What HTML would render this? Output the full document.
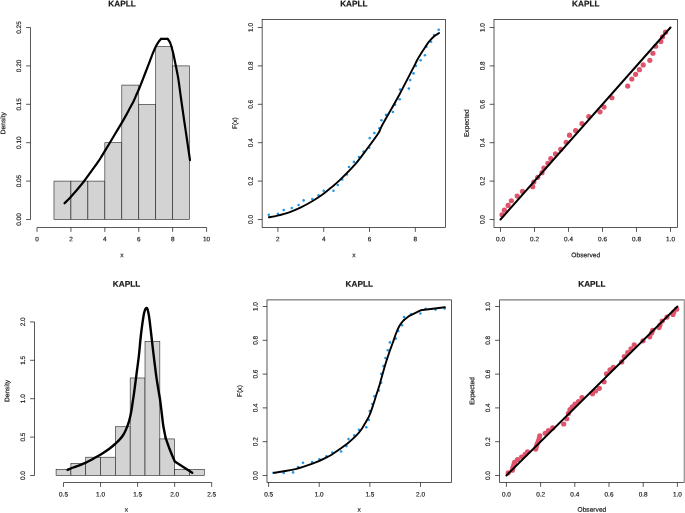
<!DOCTYPE html>
<html><head><meta charset="utf-8"><title>KAPLL</title>
<style>
html,body{margin:0;padding:0;background:#fff;}
body{width:685px;height:513px;overflow:hidden;font-family:"Liberation Sans",sans-serif;}
svg{display:block;will-change:transform;opacity:0.999;}
svg text{font-family:"Liberation Sans",sans-serif;fill:#1a1a1a;stroke:#1a1a1a;stroke-width:0.18px;text-rendering:geometricPrecision;}
</style></head>
<body>
<svg width="685" height="513" viewBox="0 0 685 513">
<rect x="0" y="0" width="685" height="513" fill="#ffffff"/>
<rect x="53.96" y="181.1" width="16.96" height="38.4" fill="#d3d3d3" stroke="#222222" stroke-width="0.6"/>
<rect x="70.92" y="181.1" width="16.96" height="38.4" fill="#d3d3d3" stroke="#222222" stroke-width="0.6"/>
<rect x="87.88" y="181.1" width="16.96" height="38.4" fill="#d3d3d3" stroke="#222222" stroke-width="0.6"/>
<rect x="104.84" y="142.7" width="16.96" height="76.8" fill="#d3d3d3" stroke="#222222" stroke-width="0.6"/>
<rect x="121.8" y="85.1" width="16.96" height="134.4" fill="#d3d3d3" stroke="#222222" stroke-width="0.6"/>
<rect x="138.76" y="104.3" width="16.96" height="115.2" fill="#d3d3d3" stroke="#222222" stroke-width="0.6"/>
<rect x="155.72" y="46.7" width="16.96" height="172.8" fill="#d3d3d3" stroke="#222222" stroke-width="0.6"/>
<rect x="172.68" y="65.9" width="16.96" height="153.6" fill="#d3d3d3" stroke="#222222" stroke-width="0.6"/>
<path d="M64.5 203.3C65.5 202.28 68.33 199.53 70.5 197.2C72.67 194.87 75.15 192.08 77.5 189.3C79.85 186.52 82.25 183.57 84.6 180.5C86.95 177.43 89.25 174.17 91.6 170.9C93.95 167.63 96.93 163.5 98.7 160.9C100.47 158.3 100.42 158.2 102.2 155.3C103.98 152.4 107.23 147.08 109.4 143.5C111.57 139.92 113.17 137.2 115.2 133.8C117.23 130.4 119.75 126.25 121.6 123.1C123.45 119.95 124.87 117.5 126.3 114.9C127.73 112.3 129 109.75 130.2 107.5C131.4 105.25 132.5 103.43 133.5 101.4C134.5 99.37 135.27 97.4 136.2 95.3C137.13 93.2 138.13 91.1 139.1 88.8C140.07 86.5 141.03 83.97 142 81.5C142.97 79.03 143.85 76.73 144.9 74C145.95 71.27 147 68.48 148.3 65.1C149.6 61.72 151.38 56.92 152.7 53.7C154.02 50.48 155.17 47.85 156.2 45.8C157.23 43.75 158.08 42.57 158.9 41.4C159.72 40.23 160.73 39.23 161.1 38.8" fill="none" stroke="#000" stroke-width="2.2" stroke-linecap="round" stroke-linejoin="round"/>
<path d="M161.1 38.8L167.6 38.8" fill="none" stroke="#000" stroke-width="2.2" stroke-linecap="round" stroke-linejoin="round"/>
<path d="M167.6 38.8C168.05 39.53 169.42 41.02 170.3 43.2C171.18 45.38 172.03 48.4 172.9 51.9C173.77 55.4 174.62 59.82 175.5 64.2C176.38 68.58 177.27 72.4 178.2 78.2C179.13 84 180.12 92.03 181.1 99C182.08 105.97 183.08 113 184.1 120C185.12 127 186.22 134.3 187.2 141C188.18 147.7 189.53 157 190 160.2" fill="none" stroke="#000" stroke-width="2.2" stroke-linecap="round" stroke-linejoin="round"/>
<line x1="30.5" y1="27.5" x2="30.5" y2="219.5" stroke="#222222" stroke-width="0.75"/>
<line x1="26.1" y1="219.5" x2="30.5" y2="219.5" stroke="#222222" stroke-width="0.75"/>
<text x="21.1" y="219.5" font-size="6.4" text-anchor="middle" transform="rotate(-89.97 21.1 219.5)">0.00</text>
<line x1="26.1" y1="181.1" x2="30.5" y2="181.1" stroke="#222222" stroke-width="0.75"/>
<text x="21.1" y="181.1" font-size="6.4" text-anchor="middle" transform="rotate(-89.97 21.1 181.1)">0.05</text>
<line x1="26.1" y1="142.7" x2="30.5" y2="142.7" stroke="#222222" stroke-width="0.75"/>
<text x="21.1" y="142.7" font-size="6.4" text-anchor="middle" transform="rotate(-89.97 21.1 142.7)">0.10</text>
<line x1="26.1" y1="104.3" x2="30.5" y2="104.3" stroke="#222222" stroke-width="0.75"/>
<text x="21.1" y="104.3" font-size="6.4" text-anchor="middle" transform="rotate(-89.97 21.1 104.3)">0.15</text>
<line x1="26.1" y1="65.9" x2="30.5" y2="65.9" stroke="#222222" stroke-width="0.75"/>
<text x="21.1" y="65.9" font-size="6.4" text-anchor="middle" transform="rotate(-89.97 21.1 65.9)">0.20</text>
<line x1="26.1" y1="27.5" x2="30.5" y2="27.5" stroke="#222222" stroke-width="0.75"/>
<text x="21.1" y="27.5" font-size="6.4" text-anchor="middle" transform="rotate(-89.97 21.1 27.5)">0.25</text>
<text x="5.3" y="123.2" font-size="6.65" text-anchor="middle" transform="rotate(-89.97 5.3 123.2)">Density</text>
<line x1="37" y1="227.5" x2="206.6" y2="227.5" stroke="#222222" stroke-width="0.75"/>
<line x1="37" y1="227.5" x2="37" y2="231.9" stroke="#222222" stroke-width="0.75"/>
<text x="37" y="241.2" font-size="6.4" text-anchor="middle" transform="rotate(0.03 37 241.2)">0</text>
<line x1="70.92" y1="227.5" x2="70.92" y2="231.9" stroke="#222222" stroke-width="0.75"/>
<text x="70.92" y="241.2" font-size="6.4" text-anchor="middle" transform="rotate(0.03 70.92 241.2)">2</text>
<line x1="104.84" y1="227.5" x2="104.84" y2="231.9" stroke="#222222" stroke-width="0.75"/>
<text x="104.84" y="241.2" font-size="6.4" text-anchor="middle" transform="rotate(0.03 104.84 241.2)">4</text>
<line x1="138.76" y1="227.5" x2="138.76" y2="231.9" stroke="#222222" stroke-width="0.75"/>
<text x="138.76" y="241.2" font-size="6.4" text-anchor="middle" transform="rotate(0.03 138.76 241.2)">6</text>
<line x1="172.68" y1="227.5" x2="172.68" y2="231.9" stroke="#222222" stroke-width="0.75"/>
<text x="172.68" y="241.2" font-size="6.4" text-anchor="middle" transform="rotate(0.03 172.68 241.2)">8</text>
<line x1="206.6" y1="227.5" x2="206.6" y2="231.9" stroke="#222222" stroke-width="0.75"/>
<text x="206.6" y="241.2" font-size="6.4" text-anchor="middle" transform="rotate(0.03 206.6 241.2)">10</text>
<text x="122" y="257.2" font-size="6.65" text-anchor="middle" transform="rotate(0.03 122 257.2)">x</text>
<text x="122" y="6.4" font-size="8.2" text-anchor="middle" font-weight="bold" transform="rotate(0.03 122 6.4)">KAPLL</text>
<g fill="#2297e6"><circle cx="268.8" cy="214.7" r="1.3"/><circle cx="277.9" cy="213.9" r="1.3"/><circle cx="283.7" cy="210" r="1.3"/><circle cx="291.8" cy="208" r="1.3"/><circle cx="298.6" cy="205" r="1.3"/><circle cx="303.6" cy="200.4" r="1.3"/><circle cx="312.3" cy="199" r="1.3"/><circle cx="318.5" cy="195.3" r="1.3"/><circle cx="323.7" cy="190.8" r="1.3"/><circle cx="333.5" cy="190.8" r="1.3"/><circle cx="337.8" cy="185" r="1.3"/><circle cx="342.2" cy="179.4" r="1.3"/><circle cx="346.9" cy="174.5" r="1.3"/><circle cx="349" cy="167" r="1.3"/><circle cx="353.9" cy="161.9" r="1.3"/><circle cx="358.9" cy="157.1" r="1.3"/><circle cx="363.6" cy="151.6" r="1.3"/><circle cx="369.2" cy="147.8" r="1.3"/><circle cx="369.7" cy="138.1" r="1.3"/><circle cx="374.4" cy="133.1" r="1.3"/><circle cx="379.3" cy="128.2" r="1.3"/><circle cx="381.4" cy="120.3" r="1.3"/><circle cx="386" cy="114.9" r="1.3"/><circle cx="392.9" cy="112" r="1.3"/><circle cx="395.1" cy="104.8" r="1.3"/><circle cx="399.7" cy="99.2" r="1.3"/><circle cx="400.1" cy="89.6" r="1.3"/><circle cx="408.8" cy="88.6" r="1.3"/><circle cx="410.2" cy="80.1" r="1.3"/><circle cx="413.5" cy="73.4" r="1.3"/><circle cx="415.8" cy="65.9" r="1.3"/><circle cx="420.6" cy="60.3" r="1.3"/><circle cx="424.9" cy="55.2" r="1.3"/><circle cx="426.4" cy="46.8" r="1.3"/><circle cx="431.1" cy="41.8" r="1.3"/><circle cx="434.1" cy="35" r="1.3"/><circle cx="438.7" cy="29.7" r="1.3"/></g>
<path d="M268.9 217.3C270.33 217.02 274.12 216.43 277.5 215.6C280.88 214.77 285.3 213.67 289.2 212.3C293.1 210.93 297 209.28 300.9 207.4C304.8 205.52 308.88 203.23 312.6 201C316.32 198.77 319.88 196.43 323.2 194C326.52 191.57 329.7 188.75 332.5 186.4C335.3 184.05 336.23 183.57 340 179.9C343.77 176.23 350.63 169.52 355.1 164.4C359.57 159.28 362.9 154.45 366.8 149.2C370.7 143.95 375.92 136.93 378.5 132.9C381.08 128.87 378.78 131.45 382.3 125C385.82 118.55 394.25 104.1 399.6 94.2C404.95 84.3 411.47 71.3 414.4 65.6C417.33 59.9 415.72 62.58 417.2 60C418.68 57.42 421.4 53.07 423.3 50.1C425.2 47.13 426.83 44.47 428.6 42.2C430.37 39.93 432.15 38.03 433.9 36.5C435.65 34.97 438.23 33.58 439.1 33" fill="none" stroke="#000" stroke-width="1.9" stroke-linecap="round" stroke-linejoin="round"/>
<rect x="262.15" y="19.5" width="183.35" height="208" fill="none" stroke="#222222" stroke-width="0.75"/>
<line x1="257.75" y1="219.5" x2="262.15" y2="219.5" stroke="#222222" stroke-width="0.75"/>
<text x="252.75" y="219.5" font-size="6.4" text-anchor="middle" transform="rotate(-89.97 252.75 219.5)">0.0</text>
<line x1="257.75" y1="181.1" x2="262.15" y2="181.1" stroke="#222222" stroke-width="0.75"/>
<text x="252.75" y="181.1" font-size="6.4" text-anchor="middle" transform="rotate(-89.97 252.75 181.1)">0.2</text>
<line x1="257.75" y1="142.7" x2="262.15" y2="142.7" stroke="#222222" stroke-width="0.75"/>
<text x="252.75" y="142.7" font-size="6.4" text-anchor="middle" transform="rotate(-89.97 252.75 142.7)">0.4</text>
<line x1="257.75" y1="104.3" x2="262.15" y2="104.3" stroke="#222222" stroke-width="0.75"/>
<text x="252.75" y="104.3" font-size="6.4" text-anchor="middle" transform="rotate(-89.97 252.75 104.3)">0.6</text>
<line x1="257.75" y1="65.9" x2="262.15" y2="65.9" stroke="#222222" stroke-width="0.75"/>
<text x="252.75" y="65.9" font-size="6.4" text-anchor="middle" transform="rotate(-89.97 252.75 65.9)">0.8</text>
<line x1="257.75" y1="27.5" x2="262.15" y2="27.5" stroke="#222222" stroke-width="0.75"/>
<text x="252.75" y="27.5" font-size="6.4" text-anchor="middle" transform="rotate(-89.97 252.75 27.5)">1.0</text>
<text x="236.95" y="123.2" font-size="6.65" text-anchor="middle" transform="rotate(-89.97 236.95 123.2)">F(x)</text>
<line x1="277.9" y1="227.5" x2="277.9" y2="231.9" stroke="#222222" stroke-width="0.75"/>
<text x="277.9" y="241.2" font-size="6.4" text-anchor="middle" transform="rotate(0.03 277.9 241.2)">2</text>
<line x1="323.7" y1="227.5" x2="323.7" y2="231.9" stroke="#222222" stroke-width="0.75"/>
<text x="323.7" y="241.2" font-size="6.4" text-anchor="middle" transform="rotate(0.03 323.7 241.2)">4</text>
<line x1="369.5" y1="227.5" x2="369.5" y2="231.9" stroke="#222222" stroke-width="0.75"/>
<text x="369.5" y="241.2" font-size="6.4" text-anchor="middle" transform="rotate(0.03 369.5 241.2)">6</text>
<line x1="415.3" y1="227.5" x2="415.3" y2="231.9" stroke="#222222" stroke-width="0.75"/>
<text x="415.3" y="241.2" font-size="6.4" text-anchor="middle" transform="rotate(0.03 415.3 241.2)">8</text>
<text x="353.82" y="257.2" font-size="6.65" text-anchor="middle" transform="rotate(0.03 353.82 257.2)">x</text>
<text x="353.82" y="6.4" font-size="8.2" text-anchor="middle" font-weight="bold" transform="rotate(0.03 353.82 6.4)">KAPLL</text>
<g fill="#df536b"><circle cx="502" cy="214.82" r="2.6"/><circle cx="504.4" cy="210.13" r="2.6"/><circle cx="508.1" cy="205.45" r="2.6"/><circle cx="511.4" cy="200.77" r="2.6"/><circle cx="517.2" cy="196.09" r="2.6"/><circle cx="522.5" cy="191.4" r="2.6"/><circle cx="532.7" cy="186.72" r="2.6"/><circle cx="533.8" cy="182.04" r="2.6"/><circle cx="537.7" cy="177.35" r="2.6"/><circle cx="542" cy="172.67" r="2.6"/><circle cx="543.9" cy="167.99" r="2.6"/><circle cx="547.9" cy="163.3" r="2.6"/><circle cx="550.8" cy="158.62" r="2.6"/><circle cx="555.5" cy="153.94" r="2.6"/><circle cx="560.7" cy="149.26" r="2.6"/><circle cx="566.2" cy="142.23" r="2.6"/><circle cx="569.5" cy="135.21" r="2.6"/><circle cx="575.6" cy="130.52" r="2.6"/><circle cx="582" cy="123.5" r="2.6"/><circle cx="588.8" cy="116.48" r="2.6"/><circle cx="600" cy="111.79" r="2.6"/><circle cx="604" cy="107.11" r="2.6"/><circle cx="611.9" cy="97.74" r="2.6"/><circle cx="627.7" cy="86.04" r="2.6"/><circle cx="631.8" cy="79.01" r="2.6"/><circle cx="635.6" cy="74.33" r="2.6"/><circle cx="639.4" cy="69.65" r="2.6"/><circle cx="643.2" cy="64.96" r="2.6"/><circle cx="649.8" cy="60.28" r="2.6"/><circle cx="652.9" cy="53.26" r="2.6"/><circle cx="655.7" cy="46.23" r="2.6"/><circle cx="660.8" cy="41.55" r="2.6"/><circle cx="662.5" cy="36.87" r="2.6"/><circle cx="665.5" cy="32.18" r="2.6"/></g>
<path d="M500.5 219.5L670.5 27.5" fill="none" stroke="#000" stroke-width="2.0" stroke-linecap="round" stroke-linejoin="round"/>
<rect x="494" y="19.5" width="183.5" height="208" fill="none" stroke="#222222" stroke-width="0.75"/>
<line x1="489.6" y1="219.5" x2="494" y2="219.5" stroke="#222222" stroke-width="0.75"/>
<text x="484.6" y="219.5" font-size="6.4" text-anchor="middle" transform="rotate(-89.97 484.6 219.5)">0.0</text>
<line x1="489.6" y1="181.1" x2="494" y2="181.1" stroke="#222222" stroke-width="0.75"/>
<text x="484.6" y="181.1" font-size="6.4" text-anchor="middle" transform="rotate(-89.97 484.6 181.1)">0.2</text>
<line x1="489.6" y1="142.7" x2="494" y2="142.7" stroke="#222222" stroke-width="0.75"/>
<text x="484.6" y="142.7" font-size="6.4" text-anchor="middle" transform="rotate(-89.97 484.6 142.7)">0.4</text>
<line x1="489.6" y1="104.3" x2="494" y2="104.3" stroke="#222222" stroke-width="0.75"/>
<text x="484.6" y="104.3" font-size="6.4" text-anchor="middle" transform="rotate(-89.97 484.6 104.3)">0.6</text>
<line x1="489.6" y1="65.9" x2="494" y2="65.9" stroke="#222222" stroke-width="0.75"/>
<text x="484.6" y="65.9" font-size="6.4" text-anchor="middle" transform="rotate(-89.97 484.6 65.9)">0.8</text>
<line x1="489.6" y1="27.5" x2="494" y2="27.5" stroke="#222222" stroke-width="0.75"/>
<text x="484.6" y="27.5" font-size="6.4" text-anchor="middle" transform="rotate(-89.97 484.6 27.5)">1.0</text>
<text x="468.8" y="123.2" font-size="6.65" text-anchor="middle" transform="rotate(-89.97 468.8 123.2)">Expected</text>
<line x1="500.5" y1="227.5" x2="500.5" y2="231.9" stroke="#222222" stroke-width="0.75"/>
<text x="500.5" y="241.2" font-size="6.4" text-anchor="middle" transform="rotate(0.03 500.5 241.2)">0.0</text>
<line x1="534.5" y1="227.5" x2="534.5" y2="231.9" stroke="#222222" stroke-width="0.75"/>
<text x="534.5" y="241.2" font-size="6.4" text-anchor="middle" transform="rotate(0.03 534.5 241.2)">0.2</text>
<line x1="568.5" y1="227.5" x2="568.5" y2="231.9" stroke="#222222" stroke-width="0.75"/>
<text x="568.5" y="241.2" font-size="6.4" text-anchor="middle" transform="rotate(0.03 568.5 241.2)">0.4</text>
<line x1="602.5" y1="227.5" x2="602.5" y2="231.9" stroke="#222222" stroke-width="0.75"/>
<text x="602.5" y="241.2" font-size="6.4" text-anchor="middle" transform="rotate(0.03 602.5 241.2)">0.6</text>
<line x1="636.5" y1="227.5" x2="636.5" y2="231.9" stroke="#222222" stroke-width="0.75"/>
<text x="636.5" y="241.2" font-size="6.4" text-anchor="middle" transform="rotate(0.03 636.5 241.2)">0.8</text>
<line x1="670.5" y1="227.5" x2="670.5" y2="231.9" stroke="#222222" stroke-width="0.75"/>
<text x="670.5" y="241.2" font-size="6.4" text-anchor="middle" transform="rotate(0.03 670.5 241.2)">1.0</text>
<text x="585.75" y="257.2" font-size="6.65" text-anchor="middle" transform="rotate(0.03 585.75 257.2)">Observed</text>
<text x="585.75" y="6.4" font-size="8.2" text-anchor="middle" font-weight="bold" transform="rotate(0.03 585.75 6.4)">KAPLL</text>
<rect x="56.09" y="469.4" width="14.82" height="6.1" fill="#d3d3d3" stroke="#222222" stroke-width="0.6"/>
<rect x="70.91" y="463.31" width="14.82" height="12.19" fill="#d3d3d3" stroke="#222222" stroke-width="0.6"/>
<rect x="85.73" y="457.21" width="14.82" height="18.29" fill="#d3d3d3" stroke="#222222" stroke-width="0.6"/>
<rect x="100.55" y="457.21" width="14.82" height="18.29" fill="#d3d3d3" stroke="#222222" stroke-width="0.6"/>
<rect x="115.37" y="426.74" width="14.82" height="48.76" fill="#d3d3d3" stroke="#222222" stroke-width="0.6"/>
<rect x="130.19" y="377.98" width="14.82" height="97.52" fill="#d3d3d3" stroke="#222222" stroke-width="0.6"/>
<rect x="145.01" y="341.4" width="14.82" height="134.1" fill="#d3d3d3" stroke="#222222" stroke-width="0.6"/>
<rect x="159.83" y="438.93" width="14.82" height="36.57" fill="#d3d3d3" stroke="#222222" stroke-width="0.6"/>
<rect x="174.65" y="469.4" width="14.82" height="6.1" fill="#d3d3d3" stroke="#222222" stroke-width="0.6"/>
<rect x="189.47" y="469.4" width="14.82" height="6.1" fill="#d3d3d3" stroke="#222222" stroke-width="0.6"/>
<path d="M67.5 469.9C68.45 469.5 71.23 468.27 73.2 467.5C75.17 466.73 77.27 466.07 79.3 465.3C81.33 464.53 83.35 463.83 85.4 462.9C87.45 461.97 89.55 460.8 91.6 459.7C93.65 458.6 95.65 457.5 97.7 456.3C99.75 455.1 101.85 453.85 103.9 452.5C105.95 451.15 108.23 449.53 110 448.2C111.77 446.87 113.02 445.8 114.5 444.5C115.98 443.2 117.45 441.98 118.9 440.4C120.35 438.82 121.95 436.97 123.2 435C124.45 433.03 125.42 430.92 126.4 428.6C127.38 426.28 128.28 423.97 129.1 421.1C129.92 418.23 130.67 414.8 131.3 411.4C131.93 408 132.42 403.93 132.9 400.7C133.38 397.47 133.6 396.43 134.2 392C134.8 387.57 135.72 380.17 136.5 374.1C137.28 368.03 138.2 361.78 138.9 355.6C139.6 349.42 140.08 342.57 140.7 337C141.32 331.43 142.03 326.2 142.6 322.2C143.17 318.2 143.63 315.22 144.1 313C144.57 310.78 145 309.73 145.4 308.9C145.8 308.07 146.13 307.93 146.5 308C146.87 308.07 147.17 307.85 147.6 309.3C148.03 310.75 148.55 313 149.1 316.7C149.65 320.4 150.28 326.27 150.9 331.5C151.52 336.73 152.18 342.85 152.8 348.1C153.42 353.35 153.98 358.05 154.6 363C155.22 367.95 155.83 373.13 156.5 377.8C157.17 382.47 157.98 387.18 158.6 391C159.22 394.82 159.67 396.93 160.2 400.7C160.73 404.47 161.3 409.52 161.8 413.6C162.3 417.68 162.55 421.1 163.2 425.2C163.85 429.3 165.28 436.03 165.7 438.2" fill="none" stroke="#000" stroke-width="2.4" stroke-linecap="round" stroke-linejoin="round"/>
<path d="M165.7 438.2L168.9 447.2L172.1 455.2L174.8 461.4L192.2 472.8" fill="none" stroke="#000" stroke-width="2.4" stroke-linecap="round" stroke-linejoin="round"/>
<line x1="34.5" y1="321.9" x2="34.5" y2="475.5" stroke="#222222" stroke-width="0.75"/>
<line x1="30.1" y1="475.5" x2="34.5" y2="475.5" stroke="#222222" stroke-width="0.75"/>
<text x="25.1" y="475.5" font-size="6.4" text-anchor="middle" transform="rotate(-89.97 25.1 475.5)">0.0</text>
<line x1="30.1" y1="437.1" x2="34.5" y2="437.1" stroke="#222222" stroke-width="0.75"/>
<text x="25.1" y="437.1" font-size="6.4" text-anchor="middle" transform="rotate(-89.97 25.1 437.1)">0.5</text>
<line x1="30.1" y1="398.7" x2="34.5" y2="398.7" stroke="#222222" stroke-width="0.75"/>
<text x="25.1" y="398.7" font-size="6.4" text-anchor="middle" transform="rotate(-89.97 25.1 398.7)">1.0</text>
<line x1="30.1" y1="360.3" x2="34.5" y2="360.3" stroke="#222222" stroke-width="0.75"/>
<text x="25.1" y="360.3" font-size="6.4" text-anchor="middle" transform="rotate(-89.97 25.1 360.3)">1.5</text>
<line x1="30.1" y1="321.9" x2="34.5" y2="321.9" stroke="#222222" stroke-width="0.75"/>
<text x="25.1" y="321.9" font-size="6.4" text-anchor="middle" transform="rotate(-89.97 25.1 321.9)">2.0</text>
<text x="9.3" y="391" font-size="6.65" text-anchor="middle" transform="rotate(-89.97 9.3 391)">Density</text>
<line x1="63.5" y1="482.5" x2="211.7" y2="482.5" stroke="#222222" stroke-width="0.75"/>
<line x1="63.5" y1="482.5" x2="63.5" y2="486.9" stroke="#222222" stroke-width="0.75"/>
<text x="63.5" y="496.4" font-size="6.4" text-anchor="middle" transform="rotate(0.03 63.5 496.4)">0.5</text>
<line x1="100.55" y1="482.5" x2="100.55" y2="486.9" stroke="#222222" stroke-width="0.75"/>
<text x="100.55" y="496.4" font-size="6.4" text-anchor="middle" transform="rotate(0.03 100.55 496.4)">1.0</text>
<line x1="137.6" y1="482.5" x2="137.6" y2="486.9" stroke="#222222" stroke-width="0.75"/>
<text x="137.6" y="496.4" font-size="6.4" text-anchor="middle" transform="rotate(0.03 137.6 496.4)">1.5</text>
<line x1="174.65" y1="482.5" x2="174.65" y2="486.9" stroke="#222222" stroke-width="0.75"/>
<text x="174.65" y="496.4" font-size="6.4" text-anchor="middle" transform="rotate(0.03 174.65 496.4)">2.0</text>
<line x1="211.7" y1="482.5" x2="211.7" y2="486.9" stroke="#222222" stroke-width="0.75"/>
<text x="211.7" y="496.4" font-size="6.4" text-anchor="middle" transform="rotate(0.03 211.7 496.4)">2.5</text>
<text x="126.5" y="511.7" font-size="6.65" text-anchor="middle" transform="rotate(0.03 126.5 511.7)">x</text>
<text x="126.5" y="286.8" font-size="8.2" text-anchor="middle" font-weight="bold" transform="rotate(0.03 126.5 286.8)">KAPLL</text>
<g fill="#2297e6"><circle cx="273.6" cy="472.7" r="1.3"/><circle cx="283.7" cy="473" r="1.3"/><circle cx="293.1" cy="472.4" r="1.3"/><circle cx="298" cy="467.1" r="1.3"/><circle cx="303" cy="462.7" r="1.3"/><circle cx="312.1" cy="462.1" r="1.3"/><circle cx="319.5" cy="459.2" r="1.3"/><circle cx="326.4" cy="456.3" r="1.3"/><circle cx="332.3" cy="452.5" r="1.3"/><circle cx="341.1" cy="451.5" r="1.3"/><circle cx="346.4" cy="446.1" r="1.3"/><circle cx="348.5" cy="439.1" r="1.3"/><circle cx="354.3" cy="435.4" r="1.3"/><circle cx="359" cy="429.9" r="1.3"/><circle cx="366.3" cy="427.2" r="1.3"/><circle cx="368.8" cy="419.9" r="1.3"/><circle cx="369.8" cy="411" r="1.3"/><circle cx="372.3" cy="404" r="1.3"/><circle cx="374.4" cy="396.2" r="1.3"/><circle cx="378.9" cy="390.5" r="1.3"/><circle cx="381.2" cy="382.7" r="1.3"/><circle cx="381.3" cy="373.9" r="1.3"/><circle cx="383.4" cy="366" r="1.3"/><circle cx="385.5" cy="358.1" r="1.3"/><circle cx="387.8" cy="350.2" r="1.3"/><circle cx="389.9" cy="342.4" r="1.3"/><circle cx="395.8" cy="338.6" r="1.3"/><circle cx="398.2" cy="331" r="1.3"/><circle cx="402.1" cy="325.2" r="1.3"/><circle cx="404" cy="317" r="1.3"/><circle cx="411" cy="314.3" r="1.3"/><circle cx="420.3" cy="313.5" r="1.3"/><circle cx="425.6" cy="308.8" r="1.3"/><circle cx="435.6" cy="309.6" r="1.3"/><circle cx="444.6" cy="308.5" r="1.3"/></g>
<path d="M273.7 472.9C275.17 472.67 279.08 472.08 282.5 471.5C285.92 470.92 290.3 470.33 294.2 469.4C298.1 468.47 302 467.2 305.9 465.9C309.8 464.6 314.25 462.97 317.6 461.6C320.95 460.23 323.73 458.8 326 457.7C328.27 456.6 328.77 456.53 331.2 455C333.63 453.47 337.73 450.55 340.6 448.5C343.47 446.45 345.8 444.83 348.4 442.7C351 440.57 353.98 437.98 356.2 435.7C358.42 433.42 360.02 431.42 361.7 429C363.38 426.58 364.98 423.53 366.3 421.2C367.62 418.87 368.48 417.62 369.6 415C370.72 412.38 371.9 408.78 373 405.5C374.1 402.22 375.08 398.82 376.2 395.3C377.32 391.78 378.68 387.78 379.7 384.4C380.72 381.02 381.35 378.35 382.3 375C383.25 371.65 384.23 368.1 385.4 364.3C386.57 360.5 388.07 355.78 389.3 352.2C390.53 348.62 391.75 345.75 392.8 342.8C393.85 339.85 394.55 337.22 395.6 334.5C396.65 331.78 397.93 328.67 399.1 326.5C400.27 324.33 401.73 322.63 402.6 321.5C403.47 320.37 404.02 320 404.3 319.7" fill="none" stroke="#000" stroke-width="1.9" stroke-linecap="round" stroke-linejoin="round"/>
<path d="M404.3 319.7L409.4 315.8L420.6 310.3L444.9 307.3" fill="none" stroke="#000" stroke-width="1.9" stroke-linecap="round" stroke-linejoin="round"/>
<rect x="267" y="299.9" width="184.5" height="182.6" fill="none" stroke="#222222" stroke-width="0.75"/>
<line x1="262.6" y1="475.5" x2="267" y2="475.5" stroke="#222222" stroke-width="0.75"/>
<text x="257.6" y="475.5" font-size="6.4" text-anchor="middle" transform="rotate(-89.97 257.6 475.5)">0.0</text>
<line x1="262.6" y1="441.7" x2="267" y2="441.7" stroke="#222222" stroke-width="0.75"/>
<text x="257.6" y="441.7" font-size="6.4" text-anchor="middle" transform="rotate(-89.97 257.6 441.7)">0.2</text>
<line x1="262.6" y1="407.9" x2="267" y2="407.9" stroke="#222222" stroke-width="0.75"/>
<text x="257.6" y="407.9" font-size="6.4" text-anchor="middle" transform="rotate(-89.97 257.6 407.9)">0.4</text>
<line x1="262.6" y1="374.1" x2="267" y2="374.1" stroke="#222222" stroke-width="0.75"/>
<text x="257.6" y="374.1" font-size="6.4" text-anchor="middle" transform="rotate(-89.97 257.6 374.1)">0.6</text>
<line x1="262.6" y1="340.3" x2="267" y2="340.3" stroke="#222222" stroke-width="0.75"/>
<text x="257.6" y="340.3" font-size="6.4" text-anchor="middle" transform="rotate(-89.97 257.6 340.3)">0.8</text>
<line x1="262.6" y1="306.5" x2="267" y2="306.5" stroke="#222222" stroke-width="0.75"/>
<text x="257.6" y="306.5" font-size="6.4" text-anchor="middle" transform="rotate(-89.97 257.6 306.5)">1.0</text>
<text x="241.8" y="391" font-size="6.65" text-anchor="middle" transform="rotate(-89.97 241.8 391)">F(x)</text>
<line x1="268.6" y1="482.5" x2="268.6" y2="486.9" stroke="#222222" stroke-width="0.75"/>
<text x="268.6" y="496.4" font-size="6.4" text-anchor="middle" transform="rotate(0.03 268.6 496.4)">0.5</text>
<line x1="319.24" y1="482.5" x2="319.24" y2="486.9" stroke="#222222" stroke-width="0.75"/>
<text x="319.24" y="496.4" font-size="6.4" text-anchor="middle" transform="rotate(0.03 319.24 496.4)">1.0</text>
<line x1="369.87" y1="482.5" x2="369.87" y2="486.9" stroke="#222222" stroke-width="0.75"/>
<text x="369.87" y="496.4" font-size="6.4" text-anchor="middle" transform="rotate(0.03 369.87 496.4)">1.5</text>
<line x1="420.5" y1="482.5" x2="420.5" y2="486.9" stroke="#222222" stroke-width="0.75"/>
<text x="420.5" y="496.4" font-size="6.4" text-anchor="middle" transform="rotate(0.03 420.5 496.4)">2.0</text>
<text x="359.25" y="511.7" font-size="6.65" text-anchor="middle" transform="rotate(0.03 359.25 511.7)">x</text>
<text x="359.25" y="286.8" font-size="8.2" text-anchor="middle" font-weight="bold" transform="rotate(0.03 359.25 286.8)">KAPLL</text>
<g fill="#df536b"><circle cx="508.2" cy="472.86" r="2.6"/><circle cx="512.3" cy="470.22" r="2.6"/><circle cx="512.9" cy="467.58" r="2.6"/><circle cx="513.8" cy="464.94" r="2.6"/><circle cx="514.6" cy="462.3" r="2.6"/><circle cx="517.5" cy="459.66" r="2.6"/><circle cx="521.6" cy="457.02" r="2.6"/><circle cx="525.1" cy="454.38" r="2.6"/><circle cx="527.5" cy="451.73" r="2.6"/><circle cx="535.7" cy="449.09" r="2.6"/><circle cx="536.3" cy="446.45" r="2.6"/><circle cx="537.2" cy="443.81" r="2.6"/><circle cx="538.4" cy="441.17" r="2.6"/><circle cx="539.2" cy="438.53" r="2.6"/><circle cx="539.8" cy="435.89" r="2.6"/><circle cx="545.2" cy="433.25" r="2.6"/><circle cx="548.5" cy="430.61" r="2.6"/><circle cx="552.7" cy="427.97" r="2.6"/><circle cx="563.7" cy="424.01" r="2.6"/><circle cx="566.8" cy="418.73" r="2.6"/><circle cx="568.4" cy="413.45" r="2.6"/><circle cx="570" cy="409.48" r="2.6"/><circle cx="572.3" cy="406.84" r="2.6"/><circle cx="575" cy="404.2" r="2.6"/><circle cx="578.5" cy="401.56" r="2.6"/><circle cx="582" cy="397.6" r="2.6"/><circle cx="592.5" cy="393.64" r="2.6"/><circle cx="595.5" cy="391" r="2.6"/><circle cx="599.3" cy="388.36" r="2.6"/><circle cx="604.1" cy="381.76" r="2.6"/><circle cx="606.5" cy="373.84" r="2.6"/><circle cx="610" cy="369.88" r="2.6"/><circle cx="613.3" cy="367.23" r="2.6"/><circle cx="621.7" cy="361.95" r="2.6"/><circle cx="624.3" cy="356.67" r="2.6"/><circle cx="627.7" cy="352.71" r="2.6"/><circle cx="631" cy="348.75" r="2.6"/><circle cx="634.2" cy="344.79" r="2.6"/><circle cx="643" cy="340.83" r="2.6"/><circle cx="649.7" cy="336.87" r="2.6"/><circle cx="651.7" cy="332.91" r="2.6"/><circle cx="652.7" cy="330.27" r="2.6"/><circle cx="659" cy="327.62" r="2.6"/><circle cx="660" cy="324.98" r="2.6"/><circle cx="662.2" cy="321.02" r="2.6"/><circle cx="667" cy="317.06" r="2.6"/><circle cx="673" cy="314.42" r="2.6"/><circle cx="673.9" cy="311.78" r="2.6"/><circle cx="676.6" cy="309.14" r="2.6"/></g>
<path d="M506.4 475.5L677.4 306.5" fill="none" stroke="#000" stroke-width="1.9" stroke-linecap="round" stroke-linejoin="round"/>
<path d="M684.3 299.9L499.5 299.9L499.5 482.5L684.3 482.5" fill="none" stroke="#222222" stroke-width="0.75"/>
<line x1="684.3" y1="299.6" x2="684.3" y2="482.8" stroke="#9c9c9c" stroke-width="1.4"/>
<line x1="495.1" y1="475.5" x2="499.5" y2="475.5" stroke="#222222" stroke-width="0.75"/>
<text x="490.1" y="475.5" font-size="6.4" text-anchor="middle" transform="rotate(-89.97 490.1 475.5)">0.0</text>
<line x1="495.1" y1="441.7" x2="499.5" y2="441.7" stroke="#222222" stroke-width="0.75"/>
<text x="490.1" y="441.7" font-size="6.4" text-anchor="middle" transform="rotate(-89.97 490.1 441.7)">0.2</text>
<line x1="495.1" y1="407.9" x2="499.5" y2="407.9" stroke="#222222" stroke-width="0.75"/>
<text x="490.1" y="407.9" font-size="6.4" text-anchor="middle" transform="rotate(-89.97 490.1 407.9)">0.4</text>
<line x1="495.1" y1="374.1" x2="499.5" y2="374.1" stroke="#222222" stroke-width="0.75"/>
<text x="490.1" y="374.1" font-size="6.4" text-anchor="middle" transform="rotate(-89.97 490.1 374.1)">0.6</text>
<line x1="495.1" y1="340.3" x2="499.5" y2="340.3" stroke="#222222" stroke-width="0.75"/>
<text x="490.1" y="340.3" font-size="6.4" text-anchor="middle" transform="rotate(-89.97 490.1 340.3)">0.8</text>
<line x1="495.1" y1="306.5" x2="499.5" y2="306.5" stroke="#222222" stroke-width="0.75"/>
<text x="490.1" y="306.5" font-size="6.4" text-anchor="middle" transform="rotate(-89.97 490.1 306.5)">1.0</text>
<text x="474.3" y="391" font-size="6.65" text-anchor="middle" transform="rotate(-89.97 474.3 391)">Expected</text>
<line x1="506.4" y1="482.5" x2="506.4" y2="486.9" stroke="#222222" stroke-width="0.75"/>
<text x="506.4" y="496.4" font-size="6.4" text-anchor="middle" transform="rotate(0.03 506.4 496.4)">0.0</text>
<line x1="540.6" y1="482.5" x2="540.6" y2="486.9" stroke="#222222" stroke-width="0.75"/>
<text x="540.6" y="496.4" font-size="6.4" text-anchor="middle" transform="rotate(0.03 540.6 496.4)">0.2</text>
<line x1="574.8" y1="482.5" x2="574.8" y2="486.9" stroke="#222222" stroke-width="0.75"/>
<text x="574.8" y="496.4" font-size="6.4" text-anchor="middle" transform="rotate(0.03 574.8 496.4)">0.4</text>
<line x1="609" y1="482.5" x2="609" y2="486.9" stroke="#222222" stroke-width="0.75"/>
<text x="609" y="496.4" font-size="6.4" text-anchor="middle" transform="rotate(0.03 609 496.4)">0.6</text>
<line x1="643.2" y1="482.5" x2="643.2" y2="486.9" stroke="#222222" stroke-width="0.75"/>
<text x="643.2" y="496.4" font-size="6.4" text-anchor="middle" transform="rotate(0.03 643.2 496.4)">0.8</text>
<line x1="677.4" y1="482.5" x2="677.4" y2="486.9" stroke="#222222" stroke-width="0.75"/>
<text x="677.4" y="496.4" font-size="6.4" text-anchor="middle" transform="rotate(0.03 677.4 496.4)">1.0</text>
<text x="591.9" y="511.7" font-size="6.65" text-anchor="middle" transform="rotate(0.03 591.9 511.7)">Observed</text>
<text x="591.9" y="286.8" font-size="8.2" text-anchor="middle" font-weight="bold" transform="rotate(0.03 591.9 286.8)">KAPLL</text>
</svg>
</body></html>
